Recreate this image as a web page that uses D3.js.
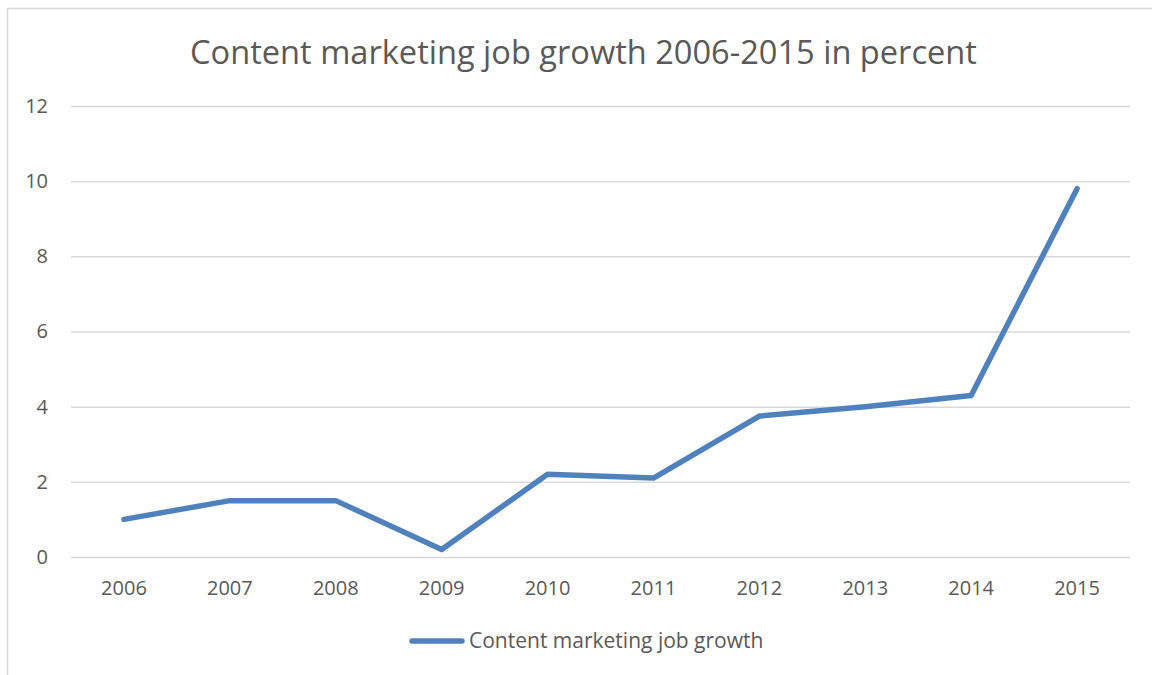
<!DOCTYPE html>
<html>
<head>
<meta charset="utf-8">
<script src="https://cdn.jsdelivr.net/npm/d3@7"></script>
<style>
  html, body { margin: 0; padding: 0; background: #fff; }
  svg { display: block; font-family: "Open Sans", sans-serif; }
</style>
</head>
<body>
<svg id="chart" width="1152" height="675"></svg>
<script>
// Yearly job growth for content marketing, in percent
const years = ["2006", "2007", "2008", "2009", "2010", "2011", "2012", "2013", "2014", "2015"];
const growth = [1.0, 1.5, 1.5, 0.2, 2.2, 2.1, 3.75, 4.0, 4.3, 9.8];
const yTicks = [0, 2, 4, 6, 8, 10, 12];
const seriesName = "Content marketing job growth";
const titleText = "Content marketing job growth 2006-2015 in percent";

const svg = d3.select("#chart");
const W = 1152, H = 675;
const textColor = "#595959";
const gridColor = "#d9d9d9";
const lineColor = "#4f81bd";

// chart frame (top and left edges visible)
svg.append("path")
  .attr("d", `M7.5,${H} V8.5 H${W}`)
  .attr("fill", "none")
  .attr("stroke", gridColor)
  .attr("stroke-width", 1.5);

const plot = { left: 71, right: 1130, top: 106, bottom: 557 };

const x = d3.scaleBand().domain(years).range([plot.left, plot.right]);
const y = d3.scaleLinear().domain([0, 12]).range([plot.bottom, plot.top]);

// title
svg.append("text")
  .attr("x", (190 + 977) / 2)
  .attr("y", 64)
  .attr("text-anchor", "middle")
  .attr("fill", textColor)
  .attr("font-size", 32.6)
  .text(titleText);

// horizontal gridlines and value labels
const yAxis = d3.axisLeft(y)
  .tickValues(yTicks)
  .tickSize(-(plot.right - plot.left))
  .tickFormat(d3.format("d"));

const gy = svg.append("g")
  .attr("transform", `translate(${plot.left},0)`)
  .call(yAxis);
gy.select(".domain").remove();
gy.selectAll(".tick line").attr("stroke", gridColor).attr("stroke-width", 1.5);
gy.selectAll(".tick text")
  .attr("fill", textColor)
  .attr("font-size", 20)
  .attr("font-family", "Open Sans, sans-serif")
  .attr("text-anchor", "end")
  .attr("x", -(plot.left - 48));

// category labels along the bottom
const xAxis = d3.axisBottom(x).tickSize(0).tickPadding(24);
const gx = svg.append("g")
  .attr("transform", `translate(0,${plot.bottom})`)
  .call(xAxis);
gx.select(".domain").remove();
gx.selectAll(".tick text")
  .attr("fill", textColor)
  .attr("font-size", 20)
  .attr("font-family", "Open Sans, sans-serif");

// the series line
const line = d3.line()
  .x((d, i) => x(years[i]) + x.bandwidth() / 2)
  .y(d => y(d));

svg.append("path")
  .datum(growth)
  .attr("d", line)
  .attr("fill", "none")
  .attr("stroke", lineColor)
  .attr("stroke-width", 5.5)
  .attr("stroke-linejoin", "round")
  .attr("stroke-linecap", "round");

// legend
const lg = svg.append("g").attr("transform", "translate(0,641)");
lg.append("line")
  .attr("x1", 412).attr("x2", 462)
  .attr("y1", 0).attr("y2", 0)
  .attr("stroke", lineColor)
  .attr("stroke-width", 5.5)
  .attr("stroke-linecap", "round");
lg.append("text")
  .attr("x", 469)
  .attr("y", 0)
  .attr("dy", "0.35em")
  .attr("fill", textColor)
  .attr("font-size", 21)
  .text(seriesName);
</script>
</body>
</html>
